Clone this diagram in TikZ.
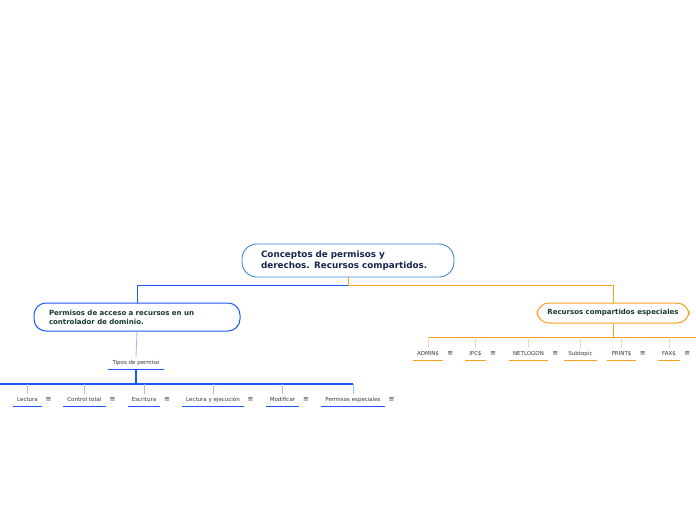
\documentclass[tikz,border=0pt]{standalone}
\usepackage{fontspec}
\setmainfont{DejaVu Sans}
\usetikzlibrary{positioning}
\definecolor{navy}{RGB}{22,38,78}
\definecolor{pine}{RGB}{22,58,42}
\definecolor{txt}{RGB}{55,55,55}
\definecolor{rootbd}{RGB}{58,138,208}
\definecolor{blu}{RGB}{28,88,245}
\definecolor{blulite}{RGB}{165,190,250}
\definecolor{org}{RGB}{245,160,30}
\definecolor{orglite}{RGB}{252,214,160}
\tikzset{
  central/.style={draw=rootbd,line width=0.9pt,rounded corners=15pt,fill=white,
    minimum height=33pt,text width=174pt,align=left,inner xsep=19pt,
    font=\fontsize{8.8}{11}\selectfont\bfseries,text=navy},
  mainbox/.style={rounded corners=12pt,line width=1pt,fill=white,
    font=\fontsize{7}{9}\selectfont\bfseries,text=pine},
  sub/.style={inner xsep=4pt,inner ysep=0pt,text height=4.6pt,text depth=1.4pt,
    minimum height=12pt,font=\fontsize{5.5}{6}\selectfont,text=txt},
  notes/.style={inner sep=0pt,font=\fontsize{7}{7}\selectfont,text=txt},
  bluline/.style={draw=blu,line width=0.9pt},
  blutwig/.style={draw=blulite,line width=0.9pt},
  orgline/.style={draw=org,line width=0.9pt},
  orgtwig/.style={draw=orglite,line width=0.9pt},
}
\begin{document}
\begin{tikzpicture}[x=1pt,y=-1pt]
\useasboundingbox (0,0) rectangle (696,520);

% central topic and the two main topics
\node[central] (root) at (348,260.5) {Conceptos de permisos y\\derechos. Recursos compartidos.};
\node[mainbox,draw=blu,text width=176pt,align=left,inner xsep=15pt,minimum height=28pt]
  (perm) at (137,317) {Permisos de acceso a recursos en un\\controlador de dominio.};
\node[mainbox,draw=org,minimum width=152pt,minimum height=20pt,align=center]
  (rec) at (613,313) {Recursos compartidos especiales};

\coordinate (rootjoin) at (348,285);
\draw[orgline] (root.south) -- (rootjoin);
\draw[bluline] (rootjoin) -| (perm.north);
\draw[orgline] (rootjoin) -| (rec.north);

% left branch
\node[sub] (tipos) at (136,363) {Tipos de permiso};
\draw[bluline,line width=1.3pt] (tipos.south west) -- (tipos.south east);
\draw[blutwig] (perm.south) -- (tipos.north);

\node[sub] (lec)  at (27.5,400) {Lectura};
\node[sub] (ctl)  at (84.5,400) {Control total};
\node[sub] (esc)  at (144,400)  {Escritura};
\node[sub] (lye)  at (213,400)  {Lectura y ejecución};
\node[sub] (mod)  at (282.5,400){Modificar};
\node[sub] (pesp) at (353,400)  {Permisos especiales};
\node[notes,right=3.5pt of lec]  (lec-n)  {≡};
\node[notes,right=3.5pt of ctl]  (ctl-n)  {≡};
\node[notes,right=3.5pt of esc]  (esc-n)  {≡};
\node[notes,right=3.5pt of lye]  (lye-n)  {≡};
\node[notes,right=3.5pt of mod]  (mod-n)  {≡};
\node[notes,right=3.5pt of pesp] (pesp-n) {≡};

\coordinate (lbus) at (136,384);
\coordinate (lbusw) at (0,384);
\draw[bluline,line width=1.8pt] (tipos.south) -- (lbus);
\draw[bluline,line width=1.1pt] (lbusw) -- (pesp.north |- lbus);
\foreach \n in {lec,ctl,esc,lye,mod,pesp}{
  \draw[blutwig] (\n.north) -- (\n.north |- lbus);
  \draw[bluline,line width=1.3pt] (\n.south west) -- (\n.south east);
}

% right branch
\node[sub] (adm) at (428,354)   {ADMIN\$};
\node[sub] (ipc) at (475.5,354) {IPC\$};
\node[sub] (net) at (528.5,354) {NETLOGON};
\node[sub] (stp) at (580.5,354) {Subtopic};
\node[sub] (prn) at (621.5,354) {PRINT\$};
\node[sub] (fax) at (669,354)   {FAX\$};
\node[notes,right=4pt of adm] (adm-n) {≡};
\node[notes,right=4pt of ipc] (ipc-n) {≡};
\node[notes,right=4pt of net] (net-n) {≡};
\node[notes,right=4pt of prn] (prn-n) {≡};
\node[notes,right=4pt of fax] (fax-n) {≡};

\coordinate (rbus) at (613,337);
\coordinate (rbuse) at (696,337);
\draw[orgline] (rec.south) -- (rbus);
\draw[orgline] (adm.north |- rbus) -- (rbuse);
\foreach \n in {adm,ipc,net,stp,prn,fax}{
  \draw[orgtwig] (\n.north) -- (\n.north |- rbus);
  \draw[orgline,line width=1.3pt] (\n.south west) -- (\n.south east);
}
\end{tikzpicture}
\end{document}
